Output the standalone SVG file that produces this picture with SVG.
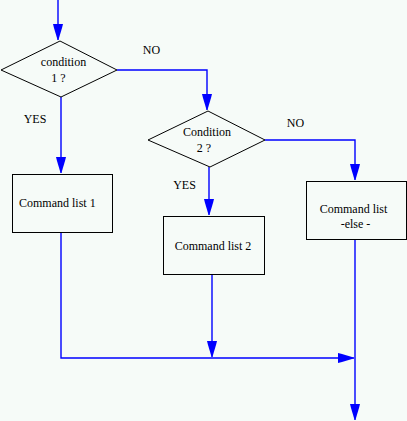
<svg xmlns="http://www.w3.org/2000/svg" width="407" height="421" viewBox="0 0 407 421">
<defs>
<style>
.bg{fill:#F6FBF8}
.node{fill:none;stroke:#000;stroke-width:1}
.conn{fill:none;stroke:#0000FF;stroke-width:1.4}
.t{font-family:"Liberation Serif","Times New Roman",serif;font-size:12px;fill:#000}
</style>
<marker id="arr" viewBox="-17 -6 18 12" refX="0" refY="0" markerWidth="18" markerHeight="12" markerUnits="userSpaceOnUse" orient="auto">
<path d="M0,0 L-2,-1 L-12,-4 L-16,-5 L-16,5 L-12,4 L-2,1 Z" fill="#0000FF"/>
</marker>
</defs>
<rect class="bg" x="0" y="0" width="407" height="421"/>
<g id="connectors">
<path class="conn" d="M58,0 L58,40" marker-end="url(#arr)"/>
<path class="conn" d="M117,70 L207,70 L207,110" marker-end="url(#arr)"/>
<path class="conn" d="M61,97 L61,173" marker-end="url(#arr)"/>
<path class="conn" d="M209,167 L209,215" marker-end="url(#arr)"/>
<path class="conn" d="M265,140 L355,140 L355,180" marker-end="url(#arr)"/>
<path class="conn" d="M61,233 L61,358 L354,358" marker-end="url(#arr)"/>
<path class="conn" d="M212,274 L212,357" marker-end="url(#arr)"/>
<path class="conn" d="M355,239 L355,420" marker-end="url(#arr)"/>
</g>
<g id="cond1">
<polygon class="node" points="60,41 117,70 61,97 1,70"/>
<text class="t" x="63.5" y="66" text-anchor="middle">condition</text>
<text class="t" x="58.5" y="82" text-anchor="middle">1 ?</text>
</g>
<g id="label-no1"><text class="t" x="151.5" y="54" text-anchor="middle">NO</text></g>
<g id="label-yes1"><text class="t" x="35" y="123" text-anchor="middle">YES</text></g>
<g id="cmd1">
<rect class="node" x="12.5" y="174.5" width="100" height="58"/>
<text class="t" x="19" y="207">Command list 1</text>
</g>
<g id="cond2">
<polygon class="node" points="208,111 265,140 210,167 148,140"/>
<text class="t" x="207" y="136" text-anchor="middle">Condition</text>
<text class="t" x="204" y="152" text-anchor="middle">2 ?</text>
</g>
<g id="label-no2"><text class="t" x="295.5" y="127" text-anchor="middle">NO</text></g>
<g id="label-yes2"><text class="t" x="184.5" y="189" text-anchor="middle">YES</text></g>
<g id="cmd2">
<rect class="node" x="163.5" y="216.5" width="101" height="58"/>
<text class="t" x="213" y="250" text-anchor="middle">Command list 2</text>
</g>
<g id="cmdelse">
<rect class="node" x="306.5" y="181.5" width="100" height="58"/>
<text class="t" x="353.5" y="213" text-anchor="middle">Command list</text>
<text class="t" x="355.5" y="228" text-anchor="middle">-else -</text>
</g>
</svg>
